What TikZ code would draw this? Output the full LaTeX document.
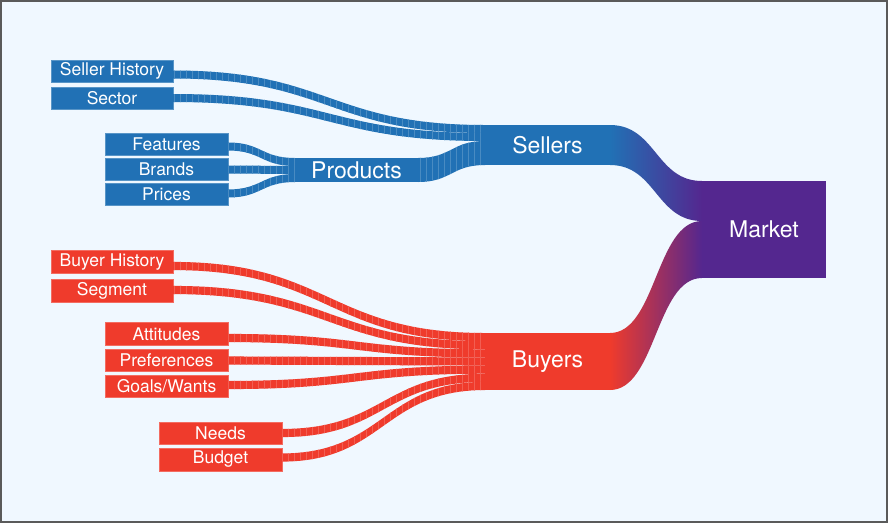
\documentclass[tikz,border=0pt]{standalone}
\usepackage{fontspec}
\setmainfont{TeX Gyre Heros}
\usetikzlibrary{calc}
\usetikzlibrary{patterns.meta}
\definecolor{sellerblue}{HTML}{2171B5}
\definecolor{buyerred}{HTML}{EF3B2C}
\definecolor{marketpurple}{HTML}{54278F}
\definecolor{backdrop}{HTML}{F0F8FF}
\definecolor{framegray}{HTML}{5A5A5A}
\tikzstyle{box}=[rectangle, inner sep=0, outer sep=0, text=white, font=\fontsize{17.5}{18}\selectfont]
\tikzstyle{seller}=[box, fill=sellerblue, draw=sellerblue!75!white, line width=0.8pt]
\tikzstyle{buyer}=[box, fill=buyerred, draw=buyerred!75!white, line width=0.8pt]
\tikzstyle{leaf}=[minimum width=122pt, minimum height=22pt]
\tikzstyle{hub}=[draw=none, font=\fontsize{23}{24}\selectfont]
\tikzstyle{stripes}=[postaction={pattern={Lines[angle=90,distance=6pt,line width=0.5pt]}, pattern color=#1}]
\tikzstyle{seller flow}=[fill=sellerblue, stripes=sellerblue!82!white]
\tikzstyle{buyer flow}=[fill=buyerred, stripes=buyerred!82!white]
\newcommand{\flow}[6]{%
  \path[#6] let \p1=($(#1.east)+(0,#2-#5/2)$), \p2=($(#3.north west)+(0,#4)$),
    \p3=($(#1.east)+(0,#2+#5/2)$), \p4=($(#3.north west)+(0,#4+#5)$) in
    (\p1) .. controls (\x1/2+\x2/2,\y1) and (\x1/2+\x2/2,\y2) .. (\p2)
    -- (\p4) .. controls (\x1/2+\x2/2,\y4) and (\x1/2+\x2/2,\y3) .. (\p3) -- cycle;}

\begin{document}
\begin{tikzpicture}[x=1pt, y=-1pt]
    \useasboundingbox (0,0) rectangle (888,523);
    \fill [backdrop] (0,0) rectangle (888,523);
    \draw [framegray, line width=1.5pt] (0.75,0.75) rectangle (887,522);

    \node [seller, leaf] (seller-history) at (112,71) {Seller History};
    \node [seller, leaf] (sector) at (112,98) {Sector};
    \node [seller, leaf, minimum width=123pt] (features) at (166.5,144.5) {Features};
    \node [seller, leaf, minimum width=123pt] (brands) at (166.5,169.5) {Brands};
    \node [seller, leaf, minimum width=123pt] (prices) at (166.5,194.5) {Prices};
    \node [seller, hub, minimum width=123pt, minimum height=24pt] (products) at (356.5,170) {Products};
    \node [seller, hub, minimum width=125pt, minimum height=40pt] (sellers) at (547.5,145) {Sellers};

    \node [buyer, leaf, minimum height=23pt] (buyer-history) at (112,262) {Buyer History};
    \node [buyer, leaf, minimum height=23pt] (segment) at (112,291) {Segment};
    \node [buyer, leaf, minimum width=123pt, minimum height=23pt] (attitudes) at (166.5,334) {Attitudes};
    \node [buyer, leaf, minimum width=123pt] (preferences) at (166.5,360.5) {Preferences};
    \node [buyer, leaf, minimum width=123pt] (goals) at (166.5,386) {Goals/Wants};
    \node [buyer, leaf, minimum width=123pt] (needs) at (220.5,433) {Needs};
    \node [buyer, leaf, minimum width=123pt, minimum height=23pt] (budget) at (220.5,459.5) {Budget};
    \node [buyer, hub, minimum width=125pt, minimum height=57pt] (buyers) at (547.5,361.5) {Buyers};

    \node [box, hub, fill=marketpurple, minimum width=124pt, minimum height=97pt] (market) at (764,229.5) {Market};

    \flow{seller-history}{3.5}{sellers}{0}{8}{seller flow}
    \flow{sector}{0}{sellers}{8}{8}{seller flow}
    \flow{products}{0}{sellers}{16}{24}{seller flow}
    \flow{features}{2}{products}{0}{8}{seller flow}
    \flow{brands}{0}{products}{8}{8}{seller flow}
    \flow{prices}{-1}{products}{16}{8}{seller flow}

    \foreach \name/\dy [count=\i from 0] in {buyer-history/4, segment/-1, attitudes/4, preferences/0, goals/-1, needs/0, budget/-2}
    \flow{\name}{\dy}{buyers}{\i*8.143}{8.143}{buyer flow};

    \flow{sellers}{0}{market}{0}{40}{left color=sellerblue, right color=marketpurple}
    \flow{buyers}{0}{market}{40}{57}{left color=buyerred, right color=marketpurple}
\end{tikzpicture}
\end{document}
